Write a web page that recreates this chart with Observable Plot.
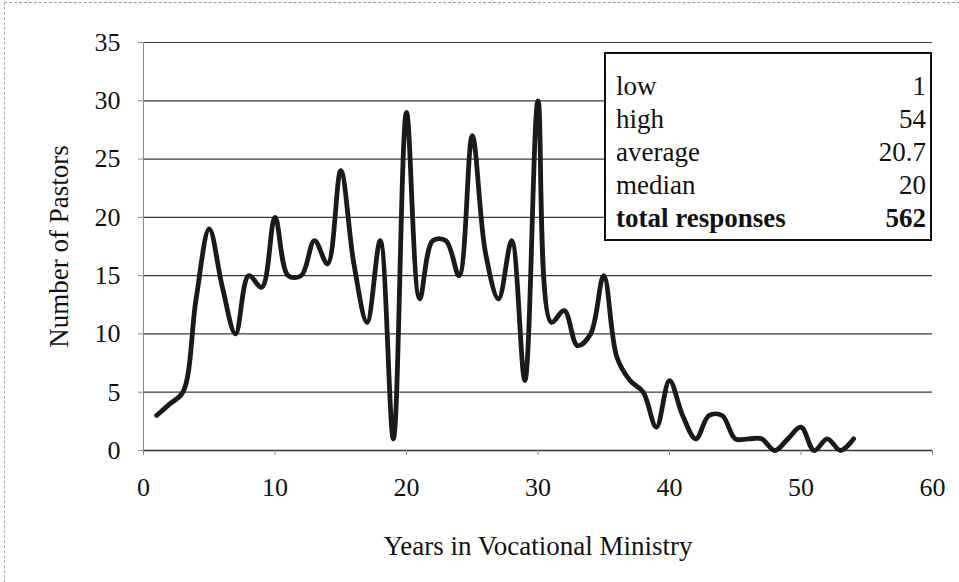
<!DOCTYPE html>
<html><head><meta charset="utf-8">
<script src="https://cdn.jsdelivr.net/npm/d3@7"></script>
<script src="https://cdn.jsdelivr.net/npm/@observablehq/plot@0.6"></script>
<style>
body{margin:0;background:#fff;}
#wrap{position:relative;width:959px;height:582px;overflow:hidden;background:#fff;}
#border{position:absolute;left:4px;top:2px;width:960px;height:600px;border-top:1px dashed #999;border-left:1px dashed #aaa;pointer-events:none;}
#stats{position:absolute;left:604px;top:52px;width:324px;height:185px;border:2px solid #111;background:#fff;box-sizing:content-box;font-family:"Liberation Serif","DejaVu Serif",serif;font-size:27px;color:#111;}
#stats table{border-collapse:collapse;position:absolute;left:10px;top:16px;width:310px;}
#stats td{padding:0;height:33px;line-height:33px;white-space:nowrap;}
#stats td.v{text-align:right;}
#stats tr.b td{font-weight:bold;}
</style></head><body><div id="wrap"><div id="chart"></div><div id="stats"></div><div id="border"></div></div>
<script>
const years = [1,2,3,4,5,6,7,8,9,10,11,12,13,14,15,16,17,18,19,20,21,22,23,24,25,26,27,28,29,30,31,32,33,34,35,36,37,38,39,40,41,42,43,44,45,46,47,48,49,50,51,52,53,54];
const pastors = [3,4,5,13,19,14,10,15,14,20,15,15,18,16,24,16,11,18,1,29,13,18,18,15,27,17,13,18,6,30,11,12,9,10,15,8,6,5,2,6,3,1,3,3,1,1,1,0,1,2,0,1,0,1];
const statLabels = ["low","high","average","median","total responses"];
const statValues = ["1","54","20.7","20","562"];
const yTicks = [0,5,10,15,20,25,30,35];
const xTicks = [0,10,20,30,40,50,60];
const xTitle = "Years in Vocational Ministry";
const yTitle = "Number of Pastors";

const data = years.map((x,i)=>({x, y: pastors[i]}));

const chart = Plot.plot({
  width: 959, height: 582,
  marginLeft: 143, marginRight: 27, marginTop: 42, marginBottom: 132,
  style: {fontFamily: '"Liberation Serif","DejaVu Serif",serif', fontSize: "26px", color: "#111", background: "#fff"},
  x: {domain: [0,60]},
  y: {domain: [0,35]},
  marks: [
    Plot.ruleY(yTicks.filter(d=>d>0), {stroke: "#3a3a3a", strokeWidth: 1.2}),
    Plot.ruleX([0], {stroke: "#888", strokeWidth: 1}),
    Plot.ruleY([0], {stroke: "#333", strokeWidth: 1.5}),
    Plot.axisY({ticks: yTicks, tickSize: 5, tickPadding: 18, stroke: "#888", label: null, fontSize: 26}),
    Plot.axisY({ticks: [], tickSize: 0, label: yTitle, labelAnchor: "center", labelArrow: "none", labelOffset: 95, fontSize: 27}),
    Plot.axisX({ticks: xTicks, tickSize: 5, tickPadding: 22, stroke: "#888", label: null, fontSize: 26}),
    Plot.axisX({ticks: [], tickSize: 0, label: xTitle, labelAnchor: "center", labelArrow: "none", labelOffset: 104, fontSize: 27}),
    Plot.line(data, {x: "x", y: "y", curve: "catmull-rom", stroke: "#1a1a1a", strokeWidth: 4.8, strokeLinejoin: "round", strokeLinecap: "round"})
  ]
});
document.getElementById("chart").appendChild(chart);

const tbl = document.createElement("table");
statLabels.forEach((l,i)=>{
  const tr = document.createElement("tr");
  if (i === statLabels.length-1) tr.className = "b";
  const a = document.createElement("td"); a.textContent = l;
  const b = document.createElement("td"); b.className = "v"; b.textContent = statValues[i];
  tr.appendChild(a); tr.appendChild(b); tbl.appendChild(tr);
});
document.getElementById("stats").appendChild(tbl);
</script></body></html>
